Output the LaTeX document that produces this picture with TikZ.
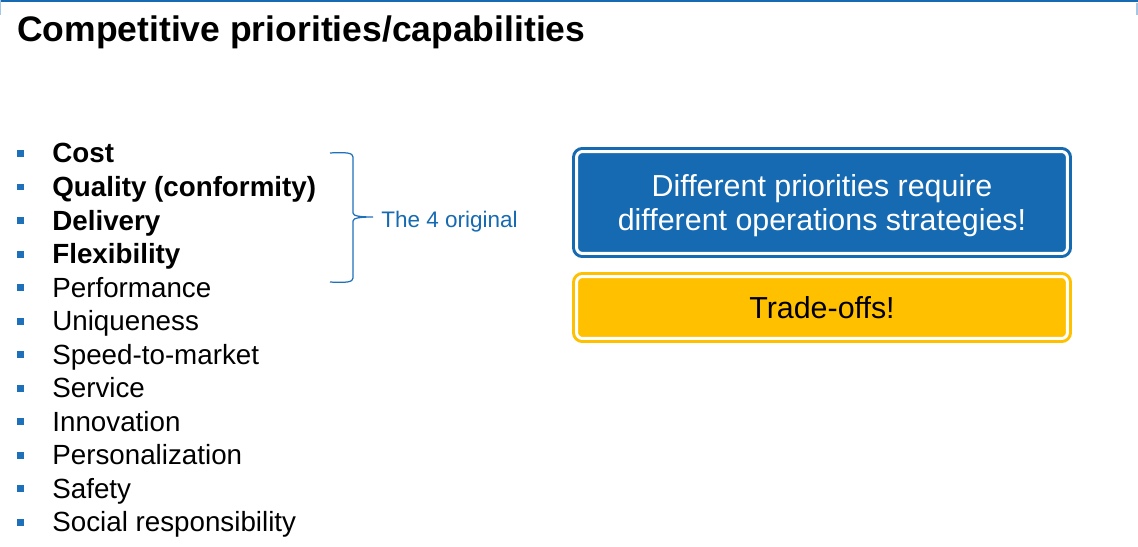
\documentclass[tikz,border=0pt]{standalone}
\usepackage{fontspec}
\setmainfont{Liberation Sans}
\usetikzlibrary{positioning}
\definecolor{slideblue}{RGB}{22, 106, 177}
\definecolor{bulletblue}{RGB}{31, 112, 186}
\definecolor{tradegold}{RGB}{255, 192, 0}
\definecolor{framelight}{RGB}{165, 198, 228}

\tikzset{
  itemtext/.style={anchor=base west, inner sep=0pt, font=\fontsize{15.8}{18}\selectfont},
  itembold/.style={itemtext, font=\fontsize{15.8}{18}\selectfont\bfseries},
  bulletsq/.style={fill=bulletblue, inner sep=0pt, minimum size=0.14cm},
  msgbox/.style={rounded corners=0.12cm, line width=0.06cm, double=white, double distance=0.06cm,
    minimum width=9.82cm, align=center, inner sep=0pt, font=\fontsize{17.3}{19.35}\selectfont},
  msgtext/.style={align=center, inner sep=0pt, font=\fontsize{17.3}{19.35}\selectfont}
}

\begin{document}
\begin{tikzpicture}[x=0.02cm, y=-0.02cm]
  \useasboundingbox (0,0) rectangle (1138,547);

  % Slide frame
  \draw[slideblue, line width=0.04cm] (0,1) -- (1138,1);
  \draw[framelight, line width=0.03cm] (0.5,0) -- (0.5,15);
  \draw[framelight, line width=0.03cm] (1137.2,3) -- (1137.2,15);

  % Title
  \node[anchor=base west, inner sep=0pt, font=\fontsize{20.2}{24}\selectfont\bfseries] (title) at (17,42) {Competitive priorities/capabilities};

  % Priorities list
  \node[bulletsq] (b1) at (20.5,153.5) {};
  \node[itembold] (cost) at (52,163) {Cost};
  \node[bulletsq] (b2) at (20.5,187) {};
  \node[itembold] (quality) at (52,196.5) {Quality (conformity)};
  \node[bulletsq] (b3) at (20.5,220.5) {};
  \node[itembold] (delivery) at (52,230) {Delivery};
  \node[bulletsq] (b4) at (20.5,254) {};
  \node[itembold] (flexibility) at (52,263.5) {Flexibility};
  \node[bulletsq] (b5) at (20.5,287.5) {};
  \node[itemtext] (performance) at (52,297) {Performance};
  \node[bulletsq] (b6) at (20.5,321) {};
  \node[itemtext] (uniqueness) at (52,330.5) {Uniqueness};
  \node[bulletsq] (b7) at (20.5,354.5) {};
  \node[itemtext] (speed) at (52,364) {Speed-to-market};
  \node[bulletsq] (b8) at (20.5,388) {};
  \node[itemtext] (service) at (52,397.5) {Service};
  \node[bulletsq] (b9) at (20.5,421.5) {};
  \node[itemtext] (innovation) at (52,431) {Innovation};
  \node[bulletsq] (b10) at (20.5,455) {};
  \node[itemtext] (personal) at (52,464.5) {Personalization};
  \node[bulletsq] (b11) at (20.5,488.5) {};
  \node[itemtext] (safety) at (52,498) {Safety};
  \node[bulletsq] (b12) at (20.5,522) {};
  \node[itemtext] (social) at (52,531.5) {Social responsibility};

  % Brace round the 4 original
  \draw[bulletblue, line width=0.7pt] (330,153) .. controls (347,152) and (353,153) .. (353,157)
    -- (353,213) .. controls (353,216) and (360,217) .. (373,217)
    .. controls (360,217) and (353,218) .. (353,221)
    -- (353,278) .. controls (353,282) and (347,283) .. (330,282);
  \node[anchor=base west, inner sep=0pt, text=slideblue, font=\fontsize{12.8}{15}\selectfont] (original) at (381,227) {The 4 original};

  % Message boxes
  \node[msgbox, draw=slideblue, fill=slideblue, minimum height=2.04cm,
    label={[msgtext, text=white, yshift=-0.06cm]center:{Different priorities require\\different operations strategies!}}] (strategies) at (822,202.5) {};
  \node[msgbox, draw=tradegold, fill=tradegold, minimum height=1.24cm] (tradeoffs) at (822,307.5) {Trade-offs!};
\end{tikzpicture}
\end{document}
